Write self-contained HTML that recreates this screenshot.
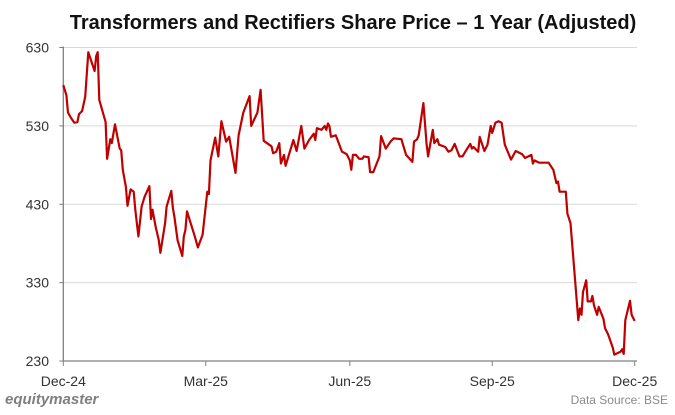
<!DOCTYPE html>
<html><head><meta charset="utf-8">
<style>
body{margin:0;background:#fff;width:675px;height:410px;overflow:hidden;font-family:"Liberation Sans",sans-serif;}
</style></head>
<body>
<svg id="chart" width="675" height="410" xmlns="http://www.w3.org/2000/svg">
<text x="353" y="29" text-anchor="middle" font-size="20" font-weight="bold" fill="#111">Transformers and Rectifiers Share Price – 1 Year (Adjusted)</text>
<g id="grid"></g><g id="axes"></g>
<path id="line" fill="none" stroke="#c00000" stroke-width="2.2" stroke-linejoin="round"/>
<text x="5" y="404" font-size="15" font-weight="bold" font-style="italic" fill="#7f7f7f">equitymaster</text>
<text x="668" y="404" text-anchor="end" font-size="12" fill="#8a8a8a">Data Source: BSE</text>
</svg>
<script>
const days=[0,2,3,5,7,9,10,12,14,16,20,21,22,23,27,28,30,31,33,36,37,38,40,41,43,45,46,48,50,52,55,56,57,59,61,62,65,66,69,70,71,73,76,77,78,79,84,86,89,92,93,94,97,99,101,104,106,110,112,115,119,120,124,126,128,133,134,136,138,139,141,142,147,149,152,154,157,160,161,162,165,167,168,169,170,171,174,175,178,181,183,184,185,187,189,191,192,195,196,198,202,203,206,209,211,216,217,219,223,224,226,227,230,232,233,236,237,239,240,244,246,248,250,253,255,258,260,261,262,265,266,269,271,273,274,276,278,280,282,286,289,293,295,299,300,301,304,310,313,315,316,317,321,322,324,329,330,331,332,334,335,337,338,339,341,342,345,346,348,351,352,356,357,358,359,362,363,365];
const prices=[582,569,547,540,534,535,545,549,567,624,600,619,624,563,535,488,513,508,532,501,499,474,452,428,449,446,423,389,427,440,453,411,423,401,384,368,406,427,447,425,414,384,364,389,397,421,389,375,391,446,443,486,515,491,536,510,516,470,518,547,568,530,547,576,511,504,495,497,508,482,493,479,512,498,530,501,512,520,512,527,525,530,525,533,530,516,518,513,497,494,486,474,493,493,488,488,491,490,471,471,491,517,501,510,514,513,506,493,484,510,513,518,559,508,491,525,508,513,506,503,497,499,507,491,491,501,507,501,503,497,516,498,506,530,521,534,536,534,506,487,498,494,489,493,482,486,483,483,474,457,459,446,446,418,406,282,297,289,318,333,306,306,313,301,289,299,284,272,264,247,238,242,245,239,282,307,289,281];
const yTicks=[230,330,430,530,630];
const xTickLabels=["Dec-24","Mar-25","Jun-25","Sep-25","Dec-25"];
const xTickDays=[0,91,183,274,365];
const X0=63.3,X1=634.7,Y0=361,Y1=47.5;
const xs=d=>X0+d/365*(X1-X0);
const ys=v=>Y0-(v-230)/400*(Y0-Y1);
const NS="http://www.w3.org/2000/svg";
const grid=document.getElementById('grid'),axes=document.getElementById('axes');
function mk(tag,attrs,parent){const e=document.createElementNS(NS,tag);for(const k in attrs)e.setAttribute(k,attrs[k]);parent.appendChild(e);return e;}
yTicks.forEach(v=>{
  if(v>230){const g=mk('line',{x1:X0,x2:637,y1:ys(v),y2:ys(v),stroke:'#d9d9d9','stroke-width':1},grid);
  
  }
  const tk=mk('line',{x1:X0-4,x2:X0,y1:ys(v),y2:ys(v),stroke:'#808080'},axes);
  
  
  const t=mk('text',{x:49,y:ys(v)+5,'text-anchor':'end','font-size':14,fill:'#333'},axes);
  
  
  t.textContent=v;
});
const ya=mk('line',{x1:X0,x2:X0,y1:Y1-1,y2:Y0,stroke:'#808080','stroke-width':1.3},axes);


const xa=mk('line',{x1:X0,x2:637,y1:Y0,y2:Y0,stroke:'#808080','stroke-width':1.3},axes);


xTickDays.forEach((d,i)=>{
  const tk=mk('line',{x1:xs(d),x2:xs(d),y1:Y0,y2:Y0+5,stroke:'#808080'},axes);
  
  
  const t=mk('text',{x:xs(d),y:386,'text-anchor':'middle','font-size':14,fill:'#333'},axes);
  
  
  t.textContent=xTickLabels[i];
});
document.getElementById('line').setAttribute('d',days.map((d,i)=>(i?'L':'M')+xs(d).toFixed(1)+' '+ys(prices[i]).toFixed(1)).join(''));
</script>
</body></html>
